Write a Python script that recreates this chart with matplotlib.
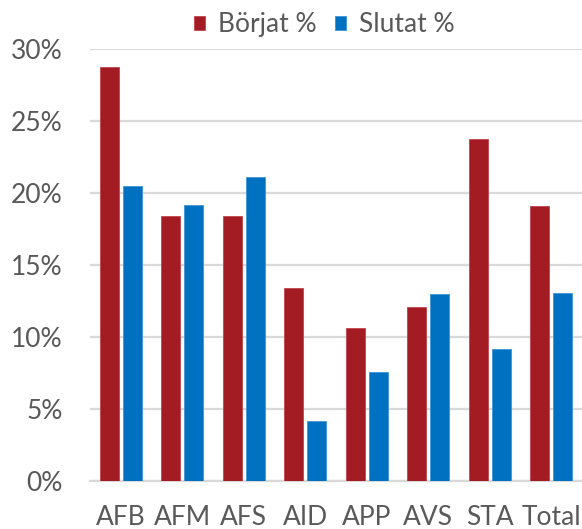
import matplotlib
matplotlib.use("Agg")
import matplotlib.pyplot as plt
import numpy as np

categories = ["AFB", "AFM", "AFS", "AID", "APP", "AVS", "STA", "Total"]
borjat = [28.8, 18.4, 18.4, 13.4, 10.6, 12.1, 23.8, 19.1]
slutat = [20.5, 19.2, 21.1, 4.2, 7.6, 13.0, 9.2, 13.1]
yticks = [0, 5, 10, 15, 20, 25, 30]
ytick_labels = ["0%", "5%", "10%", "15%", "20%", "25%", "30%"]

plt.rcParams['font.family'] = ['Lato', 'DejaVu Sans']

fig = plt.figure(figsize=(5.82, 5.29), dpi=100)
ax = fig.add_axes([0.1546, 0.0907, 0.8454, 0.8161])

x = np.arange(len(categories))
w = 0.31
ax.bar(x - 0.19, borjat, w, color="#A31B23", edgecolor="#C0454C", linewidth=0.6, label="Börjat %", zorder=3)
ax.bar(x + 0.19, slutat, w, color="#0070C0", edgecolor="#3D95D6", linewidth=0.6, label="Slutat %", zorder=3)

ax.set_xlim(-0.5, len(categories) - 0.5)
ax.set_ylim(0, 30)
ax.set_yticks(yticks)
ax.set_yticklabels(ytick_labels)
ax.set_xticks(x)
ax.set_xticklabels(categories)
ax.yaxis.grid(True, color="#D9D9D9", linewidth=1.6, zorder=0)
ax.set_axisbelow(True)
for s in ["top", "right", "left"]:
    ax.spines[s].set_visible(False)
ax.spines["bottom"].set_color("#D9D9D9")
ax.spines["bottom"].set_linewidth(1.6)
ax.tick_params(axis="both", length=0, labelsize=19, colors="#595959")
ax.tick_params(axis="x", pad=17)
ax.tick_params(axis="y", pad=19.5)

leg = ax.legend(loc="lower center", bbox_to_anchor=(0.476, 1.0), ncol=2, frameon=False,
                fontsize=19, handlelength=0.42, handleheight=0.42, handletextpad=0.5,
                columnspacing=0.7, borderaxespad=0.05)
for t in leg.get_texts():
    t.set_color("#595959")

fig.savefig("out.png", dpi=100)
